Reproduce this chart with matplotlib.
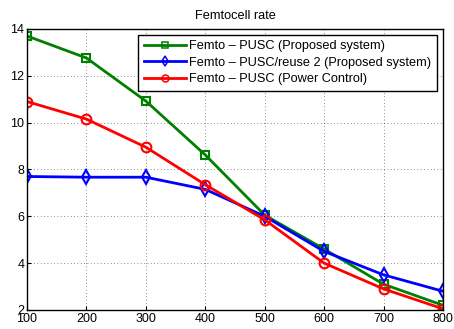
import matplotlib
matplotlib.use("Agg")
import matplotlib.pyplot as plt

plt.rcParams['font.family'] = ['Liberation Sans', 'DejaVu Sans']

x = [100, 200, 300, 400, 500, 600, 700, 800]
green = [13.7, 12.76, 10.92, 8.62, 6.05, 4.6, 3.1, 2.2]
blue = [7.7, 7.67, 7.67, 7.15, 6.0, 4.5, 3.5, 2.8]
red = [10.9, 10.15, 8.95, 7.35, 5.85, 4.0, 2.9, 2.05]
labels = ["Femto – PUSC (Proposed system)",
          "Femto – PUSC/reuse 2 (Proposed system)",
          "Femto – PUSC (Power Control)"]
title = "Femtocell rate"

fig = plt.figure(figsize=(4.54, 3.29), dpi=100)
ax = fig.add_axes([0.0595, 0.0578, 0.9163, 0.8542])
ax.plot(x, green, color=(0, 0.5, 0), lw=2, marker='s', ms=6, mfc='none', mew=1.5, label=labels[0])
ax.plot(x, blue, color='blue', lw=2, marker='d', ms=7, mfc='none', mew=1.5, label=labels[1])
ax.plot(x, red, color='red', lw=2, marker='o', ms=7, mfc='none', mew=1.5, label=labels[2])
ax.set_xlim(100, 800)
ax.set_ylim(2, 14)
ax.set_xticks(x)
ax.set_yticks([2, 4, 6, 8, 10, 12, 14])
ax.grid(True, linestyle=(0, (1, 3)), color='black', lw=0.6, alpha=0.6)
ax.tick_params(direction='in', labelsize=9, length=3, pad=2)
for s in ax.spines.values():
    s.set_linewidth(1)
ax.set_title(title, fontsize=9.2, pad=7)
leg = ax.legend(loc='upper right', fontsize=9.2, fancybox=False, framealpha=1,
                edgecolor='black', borderaxespad=0.45, handlelength=3.3,
                labelspacing=0.35, borderpad=0.45, handletextpad=0.25)
leg.get_frame().set_linewidth(1)
for h in leg.legend_handles:
    h.set_markersize(5)
    h.set_markeredgewidth(1.1)
fig.savefig("out.png", dpi=100)
